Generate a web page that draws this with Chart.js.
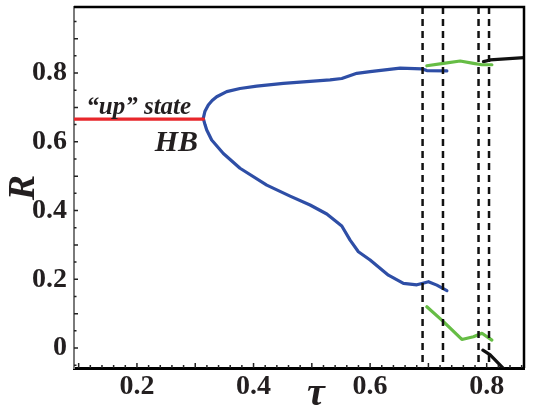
<!DOCTYPE html>
<html>
<head>
<meta charset="utf-8">
<script src="https://cdn.jsdelivr.net/npm/chart.js@4"></script>
<style>
  html, body { margin: 0; padding: 0; background: #fff; }
</style>
</head>
<body>
<canvas id="chart" width="539" height="408"></canvas>
<script>
// axis ranges and ticks
const tauMin = 0.092, tauMax = 0.864;
const rMin = -0.058, rMax = 0.992;
const xTickValues = [0.2, 0.4, 0.6, 0.8];
const xTickLabels = ['0.2', '0.4', '0.6', '0.8'];
const yTickValues = [0, 0.2, 0.4, 0.6, 0.8];
const yTickLabels = ['0', '0.2', '0.4', '0.6', '0.8'];

// "up" state (red)
const upTau = [0.092, 0.314];
const upR = [0.666, 0.666];

// blue branches after HB
const blueHiTau = [0.3138, 0.3165, 0.3224, 0.3290, 0.3368, 0.354, 0.3768, 0.4055, 0.4512, 0.4913, 0.5313, 0.5514, 0.5772, 0.600, 0.6515, 0.6888, 0.6973, 0.7317];
const blueHiR = [0.668, 0.688, 0.707, 0.720, 0.731, 0.746, 0.755, 0.762, 0.770, 0.775, 0.780, 0.784, 0.799, 0.804, 0.814, 0.812, 0.807, 0.806];
const blueLoTau = [0.3138, 0.3167, 0.3197, 0.3282, 0.3482, 0.3768, 0.4227, 0.4627, 0.497, 0.5257, 0.5514, 0.5657, 0.5799, 0.600, 0.6314, 0.6572, 0.6802, 0.6888, 0.7001, 0.7145, 0.7317];
const blueLoR = [0.668, 0.650, 0.634, 0.605, 0.566, 0.523, 0.474, 0.442, 0.416, 0.390, 0.355, 0.314, 0.280, 0.256, 0.212, 0.188, 0.184, 0.188, 0.193, 0.183, 0.167];

// green branches
const greenHiTau = [0.6973, 0.7258, 0.7545, 0.7773, 0.7918, 0.8089];
const greenHiR = [0.821, 0.828, 0.835, 0.828, 0.824, 0.824];
const greenLoTau = [0.6973, 0.7258, 0.7574, 0.7773, 0.7918, 0.8089];
const greenLoR = [0.120, 0.077, 0.025, 0.033, 0.043, 0.023];

// black branches
const blackHiTau = [0.7945, 0.806, 0.8644];
const blackHiR = [0.833, 0.838, 0.845];
const blackLoTau = [0.7935, 0.806, 0.832];
const blackLoR = [-0.006, -0.020, -0.065];

// dashed boundaries
const dashTau = [0.690, 0.725, 0.786, 0.804];

const pts = (xs, ys) => xs.map((x, i) => ({ x: x, y: ys[i] }));

function curve(xs, ys, color) {
    return {
        data: pts(xs, ys),
        showLine: true,
        borderColor: color,
        borderWidth: 3.2,
        pointRadius: 0,
        tension: 0,
        borderCapStyle: 'round',
        borderJoinStyle: 'round'
    };
}

const datasets = dashTau.map(t => ({
    data: [{ x: t, y: rMax }, { x: t, y: rMin }],
    showLine: true,
    borderColor: '#111',
    borderWidth: 2.5,
    borderDash: [7, 5],
    pointRadius: 0
}));
datasets.push(curve(upTau, upR, '#e8262b'));
datasets.push(curve(blueHiTau, blueHiR, '#2e4ea6'));
datasets.push(curve(blueLoTau, blueLoR, '#2e4ea6'));
datasets.push(curve(greenHiTau, greenHiR, '#66bd45'));
datasets.push(curve(greenLoTau, greenLoR, '#66bd45'));
datasets.push(curve(blackHiTau, blackHiR, '#111'));
datasets.push(curve(blackLoTau, blackLoR, '#111'));

const serif = "'Liberation Serif', 'Times New Roman', serif";
const ink = '#231f20';

// frame, inward ticks, x labels, titles and annotations
const decor = {
    id: 'decor',
    afterDraw(chart) {
        const { ctx, chartArea: a, scales: { x, y } } = chart;
        ctx.save();
        ctx.strokeStyle = '#000';
        ctx.lineWidth = 2.5;
        ctx.beginPath();
        ctx.moveTo(a.left, a.top);
        ctx.lineTo(a.right, a.top);
        ctx.lineTo(a.right, a.bottom);
        ctx.stroke();

        ctx.lineWidth = 1.5;
        ctx.strokeStyle = '#222';
        ctx.beginPath();
        for (let k = 5; k <= 43; k++) {
            const v = k * 0.02;
            const px = x.getPixelForValue(v);
            if (px <= a.left + 1 || px >= a.right - 1) continue;
            const len = (k % 5 === 0) ? 5 : 3;
            ctx.moveTo(px, a.bottom);
            ctx.lineTo(px, a.bottom - len);
        }
        for (let k = -1; k <= 19; k++) {
            const v = k * 0.05;
            const py = y.getPixelForValue(v);
            if (py >= a.bottom - 1 || py <= a.top + 1) continue;
            const len = (k % 2 === 0) ? 4 : 2.5;
            ctx.moveTo(a.left, py);
            ctx.lineTo(a.left + len, py);
        }
        ctx.stroke();

        ctx.fillStyle = ink;
        ctx.font = 'bold 28px ' + serif;
        ctx.textAlign = 'center';
        ctx.textBaseline = 'alphabetic';
        xTickValues.forEach((v, i) => {
            const w = ctx.measureText(xTickLabels[i]).width;
            const px = Math.min(x.getPixelForValue(v), chart.width - w / 2 - 4);
            ctx.fillText(xTickLabels[i], px, 394);
        });

        ctx.font = 'bold italic 40px ' + serif;
        ctx.fillText('τ', 316, 405);

        ctx.font = 'bold italic 25px ' + serif;
        ctx.fillText('\u201cup\u201d state', x.getPixelForValue(0.203), y.getPixelForValue(0.68));
        ctx.font = 'bold italic 30px ' + serif;
        ctx.textAlign = 'right';
        ctx.fillText('HB', x.getPixelForValue(0.3047), y.getPixelForValue(0.573));
        ctx.restore();
    }
};

new Chart(document.getElementById('chart'), {
    type: 'scatter',
    data: { datasets: datasets },
    options: {
        responsive: false,
        animation: false,
        events: [],
        layout: { padding: { left: 0, right: 15, top: 7, bottom: 0 } },
        plugins: { legend: { display: false }, tooltip: { enabled: false } },
        scales: {
            x: {
                type: 'linear',
                position: 'bottom',
                min: tauMin,
                max: tauMax,
                grid: { display: false, drawTicks: false },
                border: { display: true, color: '#000', width: 3 },
                ticks: { display: false },
                afterFit(scale) {
                    scale.height = 40;
                    scale.paddingLeft = 0;
                    scale.paddingRight = 0;
                }
            },
            y: {
                type: 'linear',
                position: 'left',
                min: rMin,
                max: rMax,
                grid: { display: false, drawTicks: false },
                border: { display: true, color: '#7a7a7a', width: 2 },
                afterBuildTicks(scale) {
                    scale.ticks = yTickValues.map(v => ({ value: v }));
                },
                ticks: {
                    padding: 7,
                    color: ink,
                    font: { family: serif, size: 28, weight: 'bold' },
                    callback: (v) => yTickLabels[yTickValues.indexOf(v)]
                },
                title: {
                    display: true,
                    text: 'R',
                    color: ink,
                    padding: { top: 1, bottom: 0 },
                    font: { family: serif, size: 38, weight: 'bold', style: 'italic' }
                },
                afterFit(scale) {
                    scale.width = 74;
                    scale.paddingTop = 0;
                    scale.paddingBottom = 0;
                }
            }
        }
    },
    plugins: [decor]
});
</script>
</body>
</html>
